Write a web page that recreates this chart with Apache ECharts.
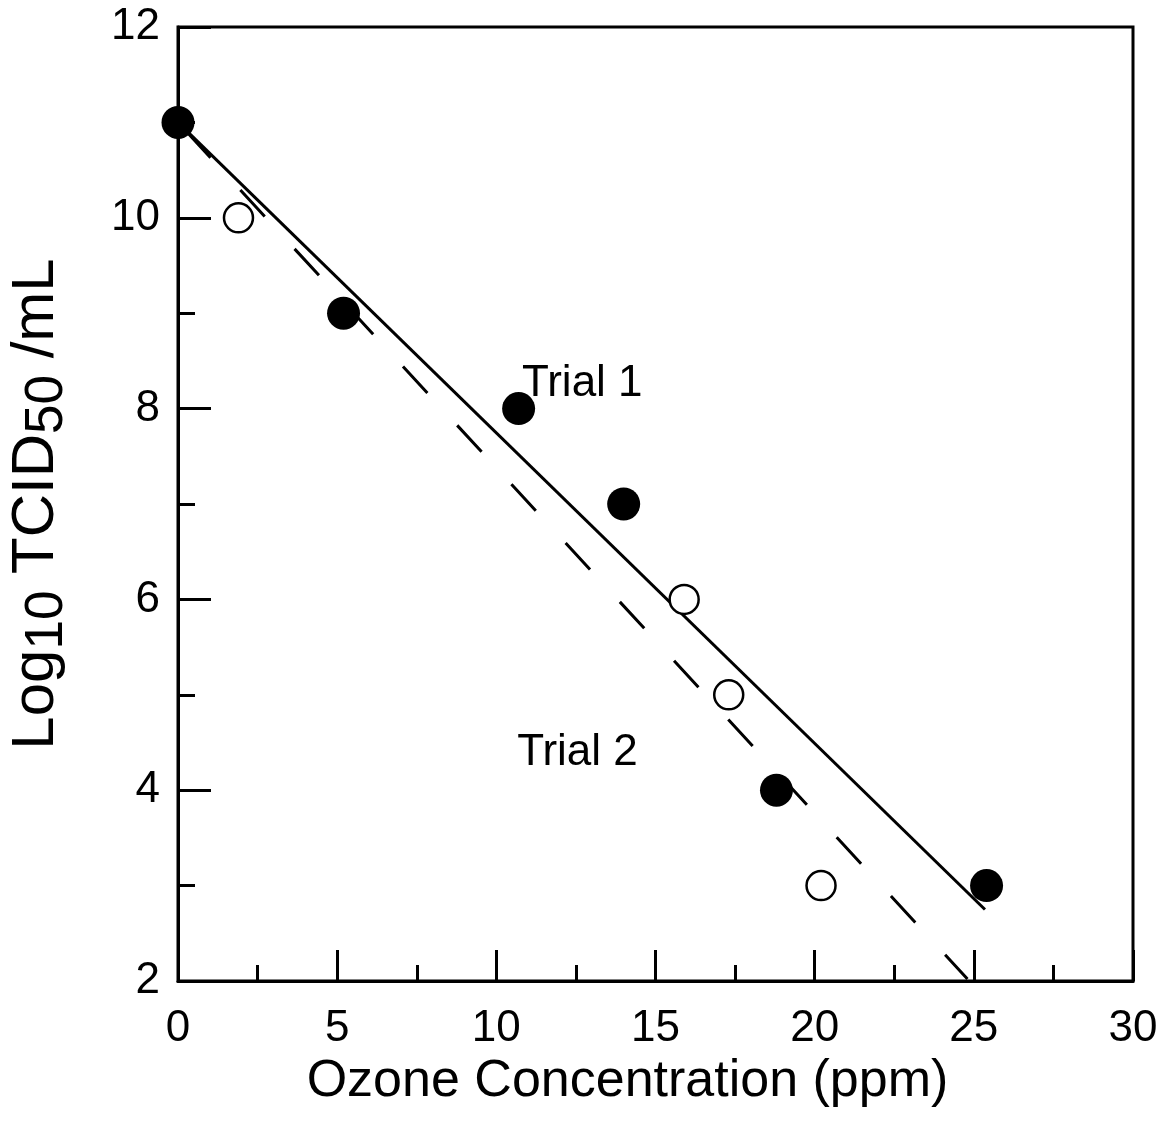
<!DOCTYPE html>
<html>
<head>
<meta charset="utf-8">
<script src="https://cdn.jsdelivr.net/npm/echarts@6/dist/echarts.min.js"></script>
<style>
  html, body { margin: 0; padding: 0; background: #fff; }
  #chart { width: 1162px; height: 1121px; }
</style>
</head>
<body>
<div id="chart"></div>
<script>
// measured points, [ozone ppm, log10 TCID50/mL]
const trial1Points = [[0, 11], [5.2, 9], [10.7, 8], [14, 7], [18.8, 4], [25.4, 3]];
const trial2Points = [[1.9, 10], [15.9, 6], [17.3, 5], [20.2, 3]];
// fitted regression lines (end points)
const trial1Fit = [[0, 11], [25.35, 2.75]];
const trial2Fit = [[0, 11], [24.8, 2.02]];
const xTicks = { min: 0, max: 30, step: 5 };
const yTicks = { min: 2, max: 12, step: 2 };
const labelNames = ["Trial 1", "Trial 2"];
const labelSpots = [[12.7, 8.26], [12.55, 4.39]];

const FONT = "Liberation Sans, Arial, sans-serif";
const chart = echarts.init(document.getElementById("chart"));

const axisCommon = {
  axisLine: { show: true, lineStyle: { color: "#000", width: 3 } },
  splitLine: { show: false },
  axisLabel: { color: "#000", fontSize: 44, fontFamily: FONT }
};

chart.setOption({
  backgroundColor: "#fff",
  animation: false,
  grid: {
    left: 178, right: 29, top: 27, bottom: 140,
    outerBoundsMode: "none", containLabel: false,
    show: true, borderColor: "#000", borderWidth: 3
  },
  xAxis: Object.assign({}, axisCommon, {
    type: "value",
    min: xTicks.min, max: xTicks.max, interval: xTicks.step,
    axisTick: { show: true, inside: true, length: 31, lineStyle: { color: "#000", width: 3 } },
    minorTick: { show: true, splitNumber: 2, length: 16, lineStyle: { color: "#000", width: 3 } },
    axisLabel: Object.assign({}, axisCommon.axisLabel, { margin: 26 }),
    name: "Ozone Concentration (ppm)",
    nameLocation: "middle",
    nameGap: 70,
    nameTextStyle: { color: "#000", fontSize: 52, fontFamily: FONT, padding: [0, 56, 0, 0] }
  }),
  yAxis: Object.assign({}, axisCommon, {
    type: "value",
    min: yTicks.min, max: yTicks.max, interval: yTicks.step,
    axisTick: { show: true, inside: true, length: 33, lineStyle: { color: "#000", width: 3 } },
    minorTick: { show: true, splitNumber: 2, length: 17, lineStyle: { color: "#000", width: 3 } },
    axisLabel: Object.assign({}, axisCommon.axisLabel, { margin: 18 }),
    name: "{n|Log}{s|10}{n| TCID}{s|50}{n| /mL}",
    nameLocation: "middle",
    nameGap: 112,
    nameTextStyle: {
      color: "#000", fontFamily: FONT,
      rich: {
        n: { fontSize: 60, fontFamily: FONT, color: "#000", verticalAlign: "bottom", lineHeight: 66 },
        s: { fontSize: 53, fontFamily: FONT, color: "#000", verticalAlign: "bottom", lineHeight: 66, padding: [0, 0, -8, 0] }
      }
    }
  }),
  series: [
    {
      name: "Trial 1 fit", type: "line", data: trial1Fit,
      symbol: "none", silent: true, z: 2,
      lineStyle: { color: "#000", width: 3 }
    },
    {
      name: "Trial 2 fit", type: "line", data: trial2Fit,
      symbol: "none", silent: true, z: 2,
      lineStyle: { color: "#000", width: 3, type: [36, 44], dashOffset: -12 }
    },
    {
      name: "Trial 1", type: "scatter", data: trial1Points,
      symbol: "circle", symbolSize: 33, z: 3,
      itemStyle: { color: "#000", opacity: 1 }
    },
    {
      name: "Trial 2", type: "scatter", data: trial2Points,
      symbol: "circle", symbolSize: 29, z: 3,
      itemStyle: { color: "#fff", borderColor: "#000", borderWidth: 2.5, opacity: 1 }
    },
    {
      name: "labels", type: "scatter", silent: true, z: 4,
      data: labelSpots.map((p, i) => ({ value: p, name: labelNames[i] })),
      symbol: "circle", symbolSize: 1,
      itemStyle: { color: "rgba(0,0,0,0)", opacity: 1 },
      label: {
        show: true, position: "inside", formatter: "{b}",
        color: "#000", fontSize: 44, fontFamily: FONT
      }
    }
  ]
});
</script>
</body>
</html>
